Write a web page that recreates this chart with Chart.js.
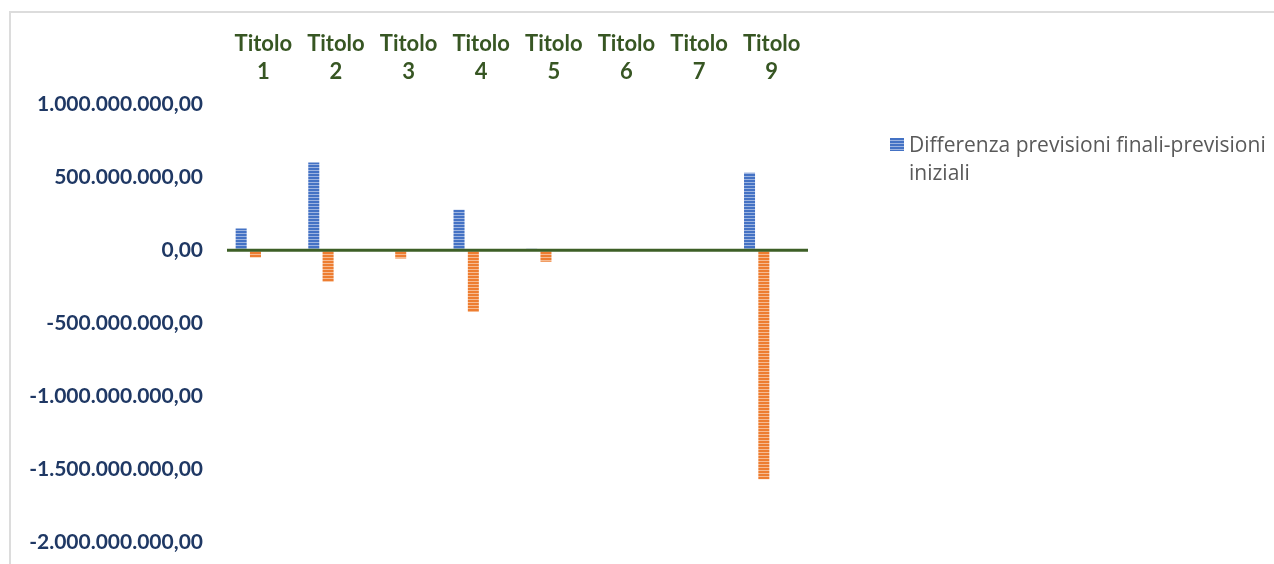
<!DOCTYPE html>
<html>
<head>
<meta charset="utf-8">
<script src="https://cdn.jsdelivr.net/npm/chart.js@4.4.1/dist/chart.umd.min.js"></script>
<style>
  html, body { margin: 0; padding: 0; background: #ffffff; }
  #wrap { position: relative; width: 1274px; height: 564px; }
</style>
</head>
<body>
<div id="wrap"><canvas id="chart" width="1274" height="564"></canvas></div>
<script>
// Categories (there is no "Titolo 8")
const categories = [
  ['Titolo', '1'], ['Titolo', '2'], ['Titolo', '3'], ['Titolo', '4'],
  ['Titolo', '5'], ['Titolo', '6'], ['Titolo', '7'], ['Titolo', '9']
];

// Series values
const differenzaPrevisioni = [148e6, 600e6, 0, 276e6, 10e6, 0, 0, 530e6];
const secondaSerie = [-50e6, -217e6, -57e6, -423e6, -80e6, 0, 0, -1568e6];

const seriesLabels = ['Differenza previsioni finali-previsioni iniziali', 'Serie 2'];
const legendLines = ['Differenza previsioni finali-previsioni', 'iniziali'];

// Value axis
const yMin = -2000000000;
const yMax = 1000000000;
const yStep = 500000000;

// Italian number format: 1.000.000.000,00
function formatIt(v) {
  const neg = v < 0;
  const intPart = Math.round(Math.abs(v)).toString().replace(/\B(?=(\d{3})+(?!\d))/g, '.');
  return (neg ? '-' : '') + intPart + ',00';
}

// Narrow horizontal stripe fill
function stripes(dark, light) {
  const c = document.createElement('canvas');
  c.width = 4; c.height = 3;
  const g = c.getContext('2d');
  g.fillStyle = dark; g.fillRect(0, 0, 4, 2);
  g.fillStyle = light; g.fillRect(0, 2, 4, 1);
  return g.createPattern(c, 'repeat');
}

const blueFill = stripes('#4472c4', '#9db4e0');
const orangeFill = stripes('#ed7d31', '#f6bb92');

const GREEN = '#375623';
const NAVY = '#1f3864';
const AXIS_SHIFT = 15; // horizontal axis line and labels sit slightly right of the bar groups

// Outer frame
const framePlugin = {
  id: 'frame',
  beforeDraw(chart) {
    const ctx = chart.ctx;
    ctx.save();
    ctx.strokeStyle = '#dcdcdc';
    ctx.lineWidth = 2;
    ctx.beginPath();
    ctx.moveTo(10, 564);
    ctx.lineTo(10, 12);
    ctx.lineTo(1274, 12);
    ctx.stroke();
    ctx.restore();
  }
};

// Zero line drawn above the bars
const zeroLinePlugin = {
  id: 'zeroLine',
  afterDatasetsDraw(chart) {
    const y = chart.scales.y.getPixelForValue(0);
    const a = chart.chartArea;
    const ctx = chart.ctx;
    ctx.save();
    ctx.strokeStyle = '#3d5f26';
    ctx.lineWidth = 3;
    ctx.beginPath();
    ctx.moveTo(a.left + AXIS_SHIFT, y);
    ctx.lineTo(a.right + AXIS_SHIFT, y);
    ctx.stroke();
    ctx.restore();
  }
};

// Legend on the right, wrapped on two lines; only the first series is listed
const legendPlugin = {
  id: 'sideLegend',
  afterDraw(chart) {
    const ctx = chart.ctx;
    const ds = chart.data.datasets[0];
    ctx.save();
    ctx.fillStyle = ds.backgroundColor;
    ctx.fillRect(890, 138, 14, 13);
    ctx.fillStyle = '#595959';
    ctx.font = '21px "Open Sans"';
    ctx.textBaseline = 'alphabetic';
    ctx.textAlign = 'left';
    legendLines.forEach((line, i) => ctx.fillText(line, 909, 152 + i * 27.5));
    ctx.restore();
  }
};

new Chart(document.getElementById('chart'), {
  type: 'bar',
  data: {
    labels: categories,
    datasets: [
      { label: seriesLabels[0], data: differenzaPrevisioni, backgroundColor: blueFill, borderWidth: 0 },
      { label: seriesLabels[1], data: secondaSerie, backgroundColor: orangeFill, borderWidth: 0 }
    ]
  },
  options: {
    responsive: false,
    animation: false,
    layout: { padding: { left: 0, right: 481, top: 0, bottom: 5 } },
    datasets: { bar: { categoryPercentage: 0.394, barPercentage: 0.77 } },
    plugins: { legend: { display: false }, tooltip: { enabled: false } },
    scales: {
      x: {
        position: 'top',
        grid: { display: false, drawTicks: false },
        border: { display: false },
        ticks: {
          color: GREEN,
          font: { family: 'Lato', weight: 'bold', size: 22, lineHeight: 1.27 },
          padding: 18,
          labelOffset: AXIS_SHIFT,
          maxRotation: 0,
          autoSkip: false
        },
        afterFit(scale) { scale.height = 104; }
      },
      y: {
        min: yMin,
        max: yMax,
        grid: { display: false, drawTicks: false },
        border: { display: false },
        ticks: {
          stepSize: yStep,
          color: NAVY,
          font: { family: 'Lato', weight: 'bold', size: 21 },
          padding: 9,
          callback: (v) => formatIt(v)
        },
        afterFit(scale) { scale.width = 212; }
      }
    }
  },
  plugins: [framePlugin, zeroLinePlugin, legendPlugin]
});
</script>
</body>
</html>
